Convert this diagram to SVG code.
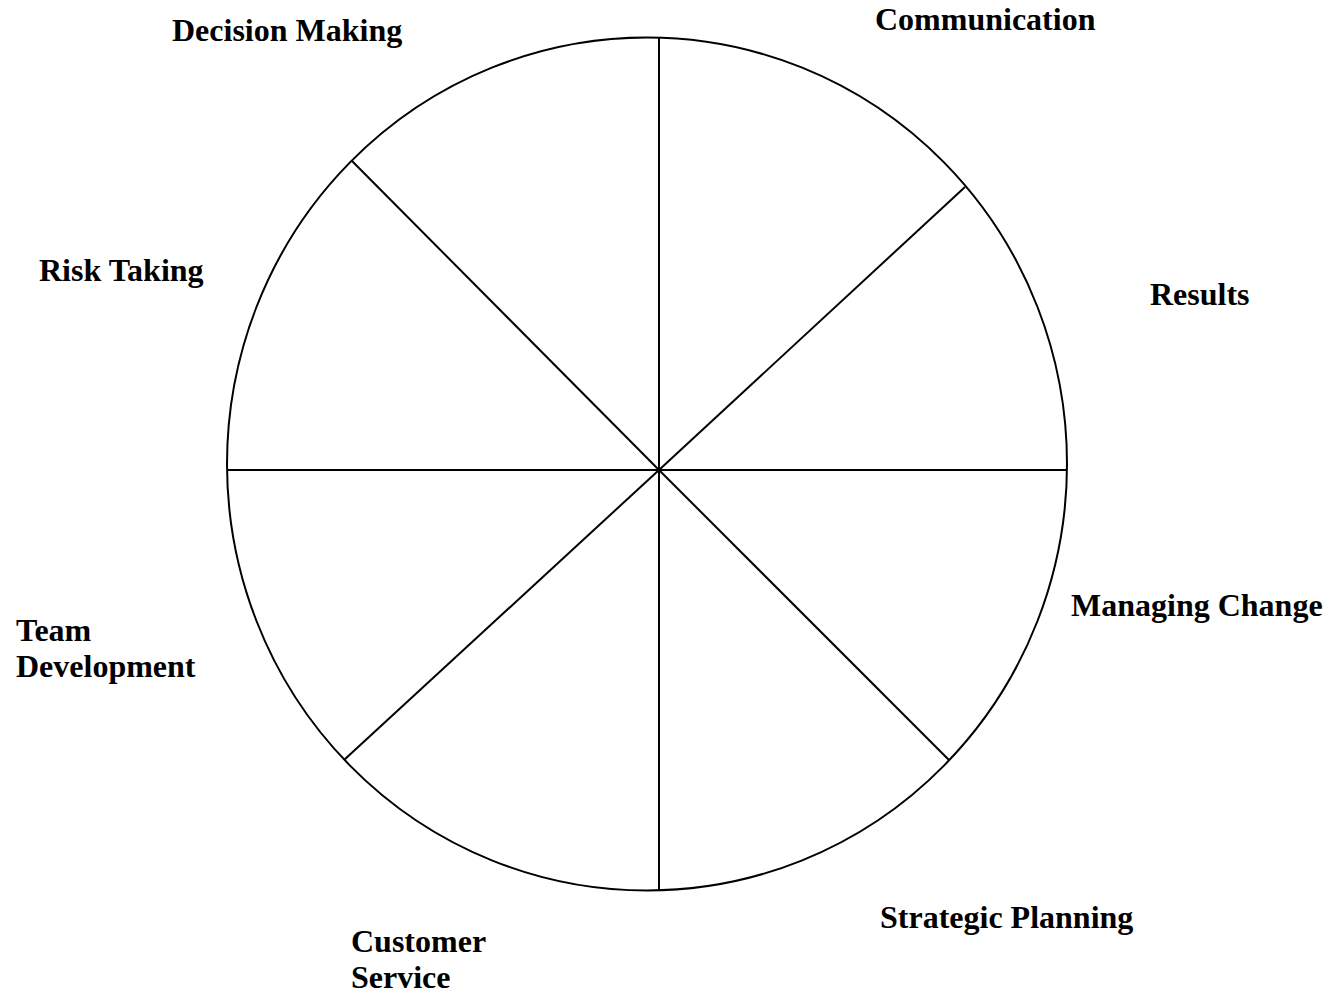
<svg xmlns="http://www.w3.org/2000/svg" width="1340" height="994" viewBox="0 0 1340 994">
<style>
.lbl{font-family:"Liberation Serif","Times New Roman",serif;font-weight:bold;font-size:32px;fill:#000}
.ln{stroke:#000;stroke-width:2;fill:none}
</style>
<rect width="1340" height="994" fill="#fff"/>
<g id="wheel">
<ellipse class="ln" cx="647" cy="464" rx="420" ry="426.5" stroke-width="2.5"/>
</g>
<g id="connectors">
<line class="ln" x1="659" y1="38" x2="659" y2="890"/>
<line class="ln" x1="227" y1="470" x2="1067" y2="470"/>
<line class="ln" x1="352" y1="161" x2="659" y2="470"/>
<line class="ln" x1="965" y1="187" x2="659" y2="470"/>
<line class="ln" x1="344" y1="760" x2="659" y2="470"/>
<line class="ln" x1="949" y1="760" x2="659" y2="470"/>
</g>
<g id="decision-making"><text class="lbl" x="172" y="41">Decision Making</text></g>
<g id="communication"><text class="lbl" x="875" y="30">Communication</text></g>
<g id="risk-taking"><text class="lbl" x="39" y="281">Risk Taking</text></g>
<g id="results"><text class="lbl" x="1150" y="305">Results</text></g>
<g id="team-development"><text class="lbl" x="16" y="641">Team</text><text class="lbl" x="16" y="677">Development</text></g>
<g id="managing-change"><text class="lbl" x="1071" y="616">Managing Change</text></g>
<g id="strategic-planning"><text class="lbl" x="880" y="928">Strategic Planning</text></g>
<g id="customer-service"><text class="lbl" x="351" y="952">Customer</text><text class="lbl" x="351" y="988">Service</text></g>
</svg>
